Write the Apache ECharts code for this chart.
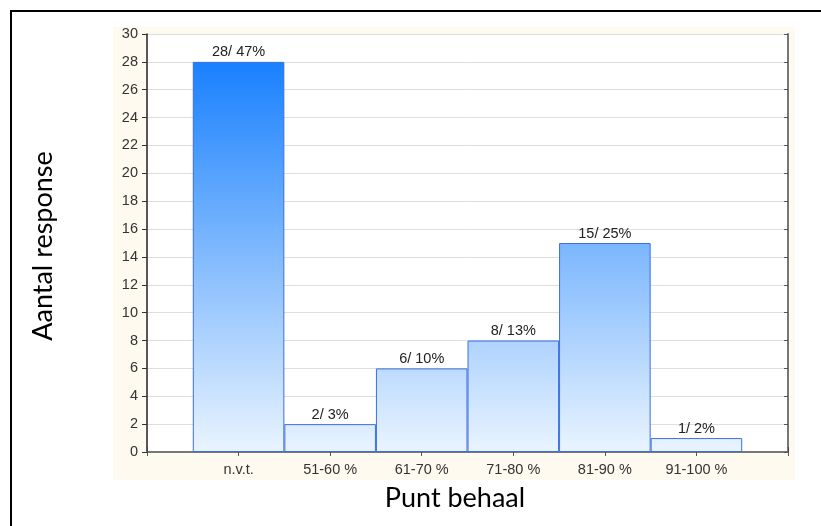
<!DOCTYPE html>
<html>
<head>
<meta charset="utf-8">
<script src="https://cdn.jsdelivr.net/npm/echarts@6/dist/echarts.min.js"></script>
<style>
  html, body { margin: 0; padding: 0; background: #fff; }
  #chart { width: 821px; height: 526px; }
</style>
</head>
<body>
<div id="chart"></div>
<script>
// categories (empty slots at both ends leave the half-gaps seen on the axis)
const categories = ['', 'n.v.t.', '51-60 %', '61-70 %', '71-80 %', '81-90 %', '91-100 %', ''];
const counts = ['-', 28, 2, 6, 8, 15, 1, '-'];
const percents = ['', '47%', '3%', '10%', '13%', '25%', '2%', ''];
const yTicks = { min: 0, max: 30, interval: 2 };

const chart = echarts.init(document.getElementById('chart'));

// gradient spans the whole plot height, so short bars stay pale
const barFill = new echarts.graphic.LinearGradient(0, 34, 0, 452, [
  { offset: 0, color: '#0a78ff' },
  { offset: 0.5, color: '#7ab6fd' },
  { offset: 1, color: '#eaf4ff' }
], true);

chart.setOption({
  animation: false,
  textStyle: { fontFamily: 'Liberation Sans' },
  graphic: [
    {
      type: 'rect', z: -10, silent: true,
      shape: { x: 113, y: 27, width: 682, height: 453 },
      style: { fill: '#fffaf0' }
    },
    {
      type: 'rect', z: -9, silent: true,
      shape: { x: 147, y: 34, width: 641, height: 418 },
      style: { fill: '#ffffff' }
    },
    {
      type: 'rect', silent: true,
      shape: { x: 11, y: 11, width: 860, height: 560 },
      style: { fill: 'none', stroke: '#000', lineWidth: 2 }
    },
    {
      type: 'text', silent: true,
      x: 43, y: 246, rotation: Math.PI / 2,
      style: {
        text: 'Aantal response', fontFamily: 'Lato', fontSize: 27,
        fill: '#000', align: 'center', verticalAlign: 'middle'
      }
    },
    {
      type: 'text', silent: true,
      x: 455, y: 498,
      style: {
        text: 'Punt behaal', fontFamily: 'Lato', fontSize: 27,
        fill: '#000', align: 'center', verticalAlign: 'middle'
      }
    }
  ],
  grid: { left: 147, right: 33, top: 34, bottom: 74 },
  xAxis: [
    {
      type: 'category',
      data: categories,
      boundaryGap: false,
      axisLine: { lineStyle: { color: '#222', width: 1.5 } },
      axisTick: { inside: true, length: 5, lineStyle: { color: '#444' } },
      axisLabel: { color: '#333', fontSize: 14.5, margin: 10 },
      splitLine: { show: false }
    },
    {
      type: 'category',
      data: categories,
      boundaryGap: false,
      position: 'top',
      axisLine: { lineStyle: { color: '#777', width: 2 } },
      axisTick: { inside: true, length: 4, lineStyle: { color: '#555' } },
      axisLabel: { show: false },
      splitLine: { show: false }
    }
  ],
  yAxis: [
    {
      type: 'value',
      min: yTicks.min, max: yTicks.max, interval: yTicks.interval,
      axisLine: { show: true, lineStyle: { color: '#222', width: 1.5 } },
      axisTick: { show: true, length: 5, lineStyle: { color: '#333' } },
      axisLabel: { color: '#333', fontSize: 14.5, margin: 9 },
      splitLine: { show: true, lineStyle: { color: '#dedede', width: 1 } }
    },
    {
      type: 'value',
      position: 'right',
      min: yTicks.min, max: yTicks.max, interval: yTicks.interval,
      axisLine: { show: true, lineStyle: { color: '#777', width: 2 } },
      axisTick: { show: true, inside: true, length: 4, lineStyle: { color: '#555' } },
      axisLabel: { show: false },
      splitLine: { show: false }
    }
  ],
  series: [
    {
      type: 'bar',
      data: counts,
      barWidth: '100%',
      itemStyle: { color: barFill, borderColor: '#3b6fe0', borderWidth: 1 },
      label: {
        show: true,
        position: 'top',
        distance: 2,
        color: '#222',
        fontSize: 14.5,
        formatter: p => p.value + '/ ' + percents[p.dataIndex]
      }
    }
  ]
});
</script>
</body>
</html>
